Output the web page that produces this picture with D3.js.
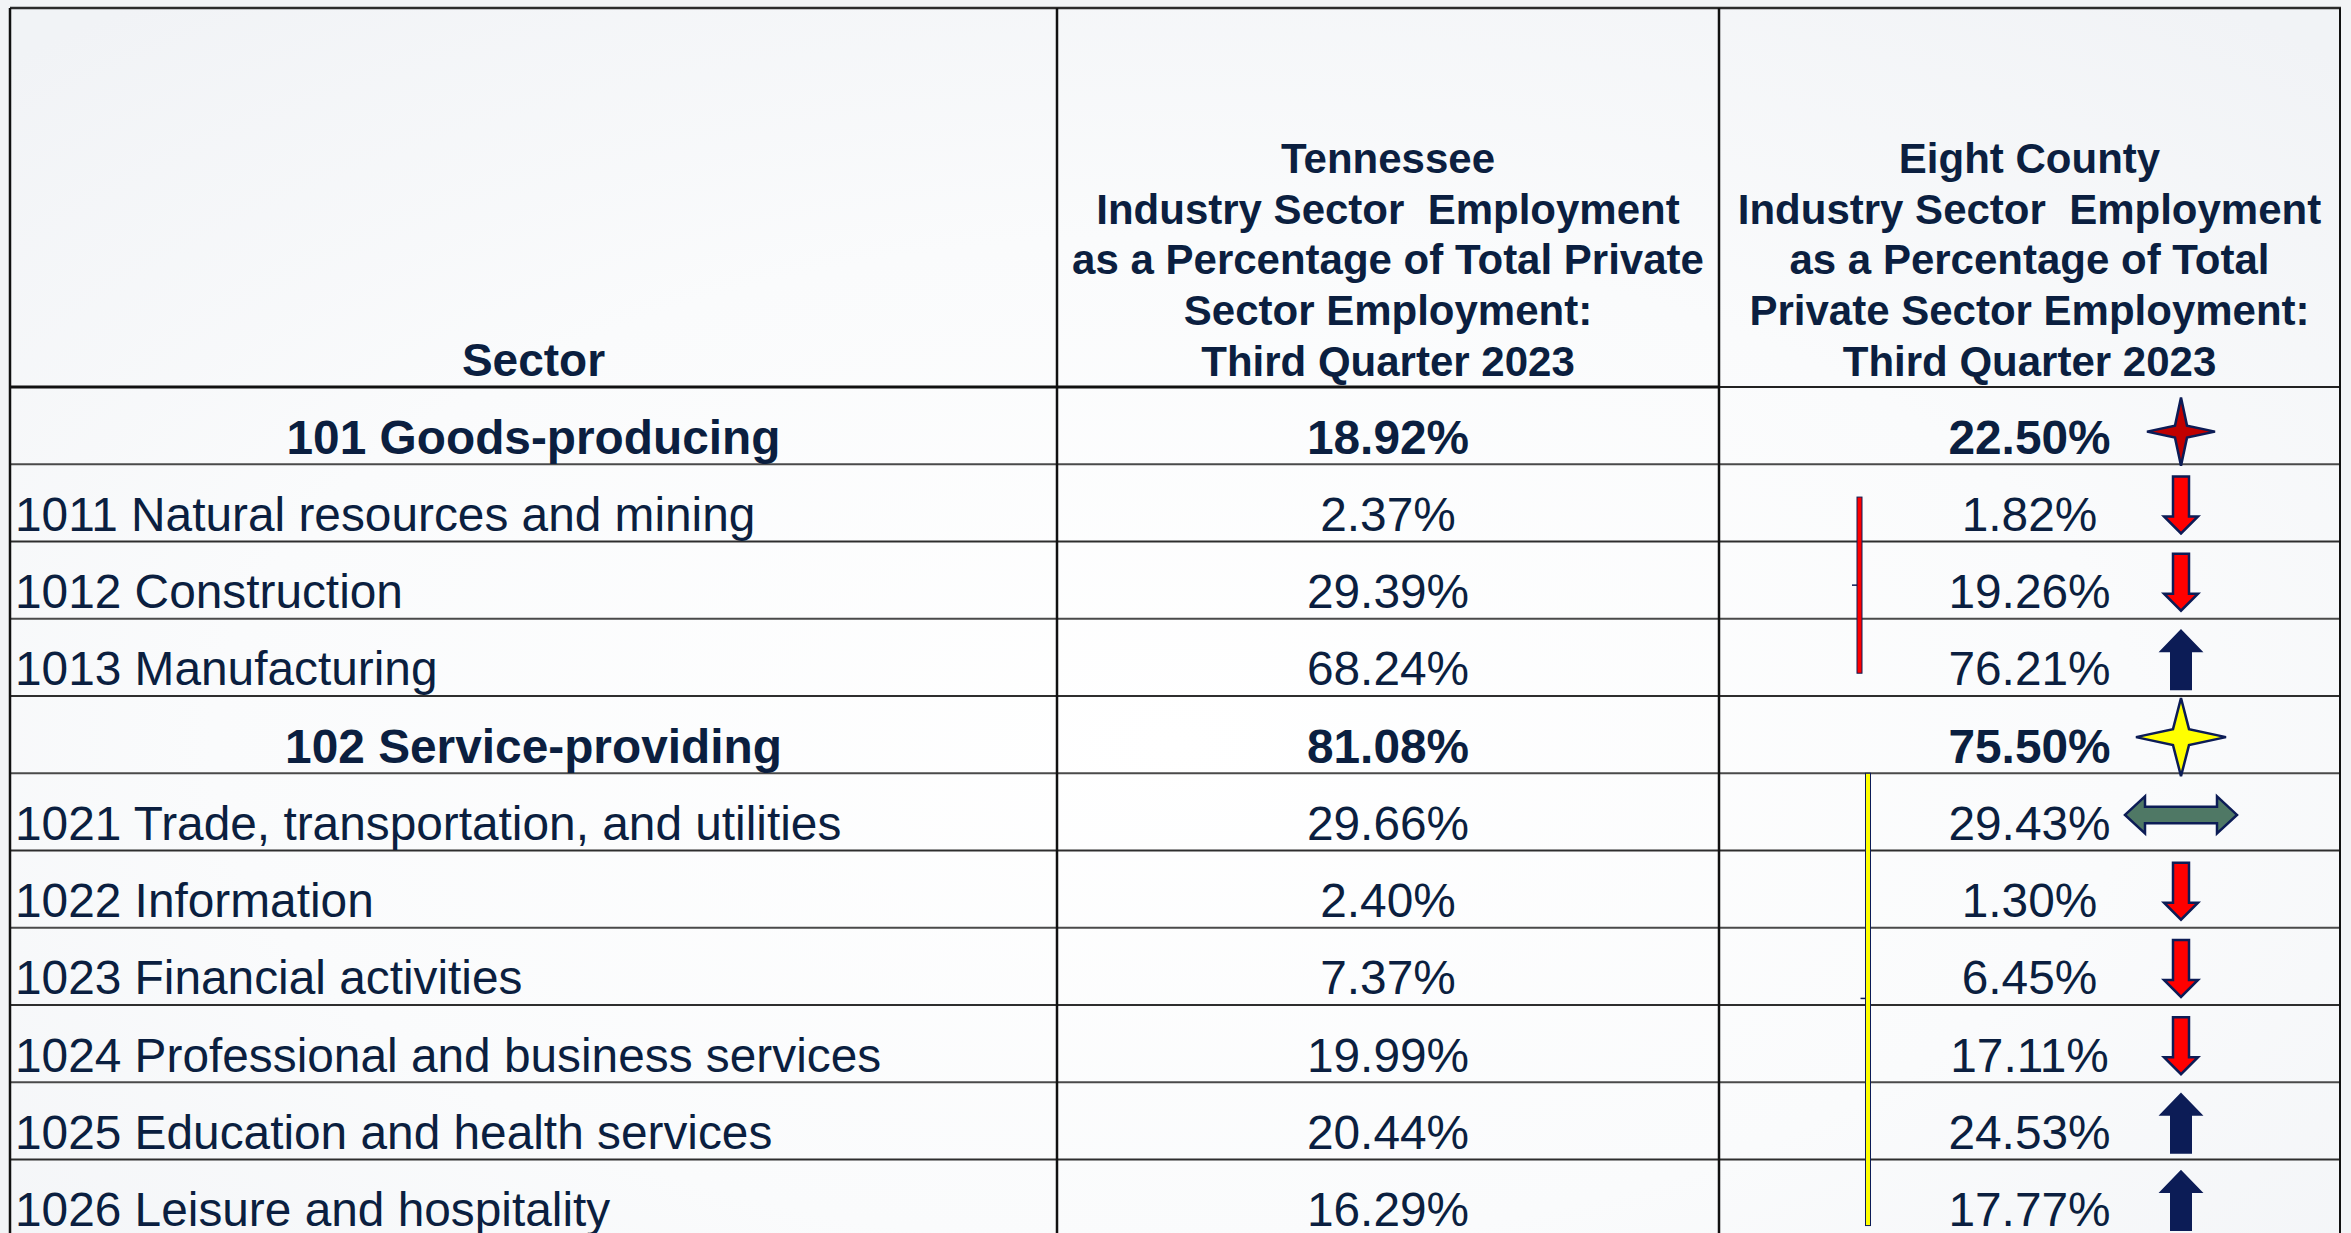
<!DOCTYPE html>
<html>
<head>
<meta charset="utf-8">
<script src="https://cdn.jsdelivr.net/npm/d3@7"></script>
<style>
  html, body { margin: 0; padding: 0; background: #f2f4f6; }
  svg { display: block; }
</style>
</head>
<body>
<svg id="chart" width="2351" height="1233"></svg>
<script>
// ---------------- data ----------------
const sectors = [
  "101 Goods-producing",
  "1011 Natural resources and mining",
  "1012 Construction",
  "1013 Manufacturing",
  "102 Service-providing",
  "1021 Trade, transportation, and utilities",
  "1022 Information",
  "1023 Financial activities",
  "1024 Professional and business services",
  "1025 Education and health services",
  "1026 Leisure and hospitality"
];
const isTotal = [true, false, false, false, true, false, false, false, false, false, false];
const tennesseeValues = [18.92, 2.37, 29.39, 68.24, 81.08, 29.66, 2.40, 7.37, 19.99, 20.44, 16.29];
const countyValues = [22.50, 1.82, 19.26, 76.21, 75.50, 29.43, 1.30, 6.45, 17.11, 24.53, 17.77];
const indicators = ["starRed", "down", "down", "up", "starYellow", "both", "down", "down", "down", "up", "up"];
const headerSector = ["Sector"];
const headerTennessee = ["Tennessee", "Industry Sector  Employment", "as a Percentage of Total Private", "Sector Employment:", "Third Quarter 2023"];
const headerCounty = ["Eight County", "Industry Sector  Employment", "as a Percentage of Total", "Private Sector Employment:", "Third Quarter 2023"];
// bracket marks (row-position spans)
const brackets = [
  { from: 1.425, to: 3.705, tick: 2.565, color: "red" },
  { from: 5.0, to: 10.855, tick: 7.915, color: "yellow" }
];

// ---------------- layout ----------------
const W = 2351, H = 1233;
const svg = d3.select("#chart");
const FONT = "'Liberation Sans', Arial, Helvetica, sans-serif";
const TEXT = "#0b1f40";
const NAVY = "#0c1c56";

const colEdges = [10, 1057, 1719, 2340];
const col = d3.scaleOrdinal().domain([0, 1, 2, 3]).range(colEdges);
const tableTop = 8, headerBottom = 387, rowH = 77.25;
const y = d3.scaleLinear().domain([0, sectors.length]).range([headerBottom, headerBottom + rowH * sectors.length]);

// background
const defs = svg.append("defs");
const grad = defs.append("radialGradient").attr("id", "bg")
  .attr("cx", "50%").attr("cy", "60%").attr("r", "75%");
grad.append("stop").attr("offset", "0%").attr("stop-color", "#ffffff");
grad.append("stop").attr("offset", "55%").attr("stop-color", "#fafbfc");
grad.append("stop").attr("offset", "100%").attr("stop-color", "#f1f3f6");
svg.append("rect").attr("x", 0).attr("y", 0).attr("width", W).attr("height", H).attr("fill", "#f2f4f6");
svg.append("rect").attr("x", col(0)).attr("y", tableTop).attr("width", col(3) - col(0)).attr("height", H - tableTop).attr("fill", "url(#bg)");

// ---------------- header ----------------
const hdr = svg.append("g").attr("font-family", FONT).attr("font-weight", "bold")
  .attr("font-size", 42).attr("fill", TEXT).attr("text-anchor", "middle");
const headerLine = 50.8, headerLastBase = 376;
function headerBlock(lines, cx, size) {
  hdr.append("g").attr("font-size", size).selectAll("text").data(lines).join("text")
    .attr("x", cx)
    .attr("y", (d, i) => headerLastBase - (lines.length - 1 - i) * headerLine)
    .style("white-space", "pre")
    .text(d => d);
}
headerBlock(headerSector, (col(0) + col(1)) / 2, 46);
headerBlock(headerTennessee, (col(1) + col(2)) / 2, 42);
headerBlock(headerCounty, (col(2) + col(3)) / 2, 42);

// ---------------- grid ----------------
const grid = svg.append("g");
grid.selectAll("line.row").data(d3.range(1, sectors.length + 1)).join("line")
  .attr("class", "row")
  .attr("x1", col(0)).attr("x2", col(3))
  .attr("y1", d => y(d)).attr("y2", d => y(d))
  .attr("stroke", d => d % 2 ? "#4a4a4a" : "#2e2e2e").attr("stroke-width", 2);
grid.append("line").attr("x1", col(0)).attr("x2", col(2)).attr("y1", y(0)).attr("y2", y(0))
  .attr("stroke", "#111").attr("stroke-width", 3);
grid.append("line").attr("x1", col(2)).attr("x2", col(3)).attr("y1", y(0)).attr("y2", y(0))
  .attr("stroke", "#222").attr("stroke-width", 2);
grid.append("line").attr("x1", col(0)).attr("x2", col(3) + 1).attr("y1", tableTop).attr("y2", tableTop)
  .attr("stroke", "#2b2b2b").attr("stroke-width", 2.5);
grid.selectAll("line.col").data([0, 1, 2, 3]).join("line")
  .attr("class", "col")
  .attr("x1", d => col(d)).attr("x2", d => col(d))
  .attr("y1", tableTop).attr("y2", H)
  .attr("stroke", "#111").attr("stroke-width", d => d === 3 ? 2 : 2.5);

// ---------------- body text ----------------
const fmt = v => d3.format(".2f")(v) + "%";
const body = svg.append("g").attr("font-family", FONT).attr("font-size", 47.8).attr("fill", TEXT);
const baseline = i => y(i + 1) - 10.6;

body.selectAll("text.sector").data(sectors).join("text")
  .attr("class", "sector")
  .attr("x", (d, i) => isTotal[i] ? (col(0) + col(1)) / 2 : col(0) + 5)
  .attr("y", (d, i) => baseline(i))
  .attr("text-anchor", (d, i) => isTotal[i] ? "middle" : "start")
  .attr("font-weight", (d, i) => isTotal[i] ? "bold" : "normal")
  .text(d => d);

body.selectAll("text.tn").data(tennesseeValues).join("text")
  .attr("class", "tn")
  .attr("x", (col(1) + col(2)) / 2)
  .attr("y", (d, i) => baseline(i))
  .attr("text-anchor", "middle")
  .attr("font-weight", (d, i) => isTotal[i] ? "bold" : "normal")
  .text(fmt);

body.selectAll("text.cty").data(countyValues).join("text")
  .attr("class", "cty")
  .attr("x", (col(2) + col(3)) / 2)
  .attr("y", (d, i) => baseline(i))
  .attr("text-anchor", "middle")
  .attr("font-weight", (d, i) => isTotal[i] ? "bold" : "normal")
  .text(fmt);

// ---------------- bracket marks ----------------
const br = svg.append("g");
brackets.forEach((b, k) => {
  const bx = k === 0 ? 1857 : 1865.5;
  br.append("rect").attr("x", bx).attr("y", y(b.from)).attr("width", 5).attr("height", y(b.to) - y(b.from))
    .attr("fill", b.color).attr("stroke", NAVY).attr("stroke-width", 1);
  br.append("line").attr("x1", bx - 5).attr("x2", bx).attr("y1", y(b.tick)).attr("y2", y(b.tick))
    .attr("stroke", NAVY).attr("stroke-width", 1.5);
});

// ---------------- indicator icons ----------------
function star(rx, ry, inner) {
  return `M0,${-ry} L${inner},${-inner} L${rx},0 L${inner},${inner} L0,${ry} L${-inner},${inner} L${-rx},0 L${-inner},${-inner} Z`;
}
function downArrow(w, h, sw, hh) {
  const t = -h / 2, b = h / 2;
  return `M${-sw/2},${t} L${sw/2},${t} L${sw/2},${b-hh} L${w/2},${b-hh} L0,${b} L${-w/2},${b-hh} L${-sw/2},${b-hh} Z`;
}
function upArrow(w, h, sw, hh) {
  const t = -h / 2, b = h / 2;
  return `M0,${t} L${w/2},${t+hh} L${sw/2},${t+hh} L${sw/2},${b} L${-sw/2},${b} L${-sw/2},${t+hh} L${-w/2},${t+hh} Z`;
}
function bothArrow(w, h, sh, hl) {
  const l = -w / 2, r = w / 2;
  return `M${l},0 L${l+hl},${-h/2} L${l+hl},${-sh/2} L${r-hl},${-sh/2} L${r-hl},${-h/2} L${r},0 L${r-hl},${h/2} L${r-hl},${sh/2} L${l+hl},${sh/2} L${l+hl},${h/2} Z`;
}
const iconSpec = {
  starRed:    { d: star(34, 34, 6),   fill: "#c00000", dy: 6 },
  starYellow: { d: star(45, 39, 8),   fill: "#ffff00", dy: 2.5 },
  down:       { d: downArrow(34, 57, 16, 17), fill: "#ff0000", dy: 2 },
  up:         { d: upArrow(39, 58, 19.5, 20), fill: NAVY, dy: 2.5 },
  both:       { d: bothArrow(112, 37, 16.5, 20), fill: "#4f7865", dy: 3 }
};
svg.append("g").selectAll("path.icon").data(indicators).join("path")
  .attr("class", "icon")
  .attr("transform", (d, i) => `translate(${2181},${(y(i) + y(i + 1)) / 2 + iconSpec[d].dy})`)
  .attr("d", d => iconSpec[d].d)
  .attr("fill", d => iconSpec[d].fill)
  .attr("stroke", NAVY)
  .attr("stroke-width", 2.5)
  .attr("stroke-linejoin", "miter");
</script>
</body>
</html>
